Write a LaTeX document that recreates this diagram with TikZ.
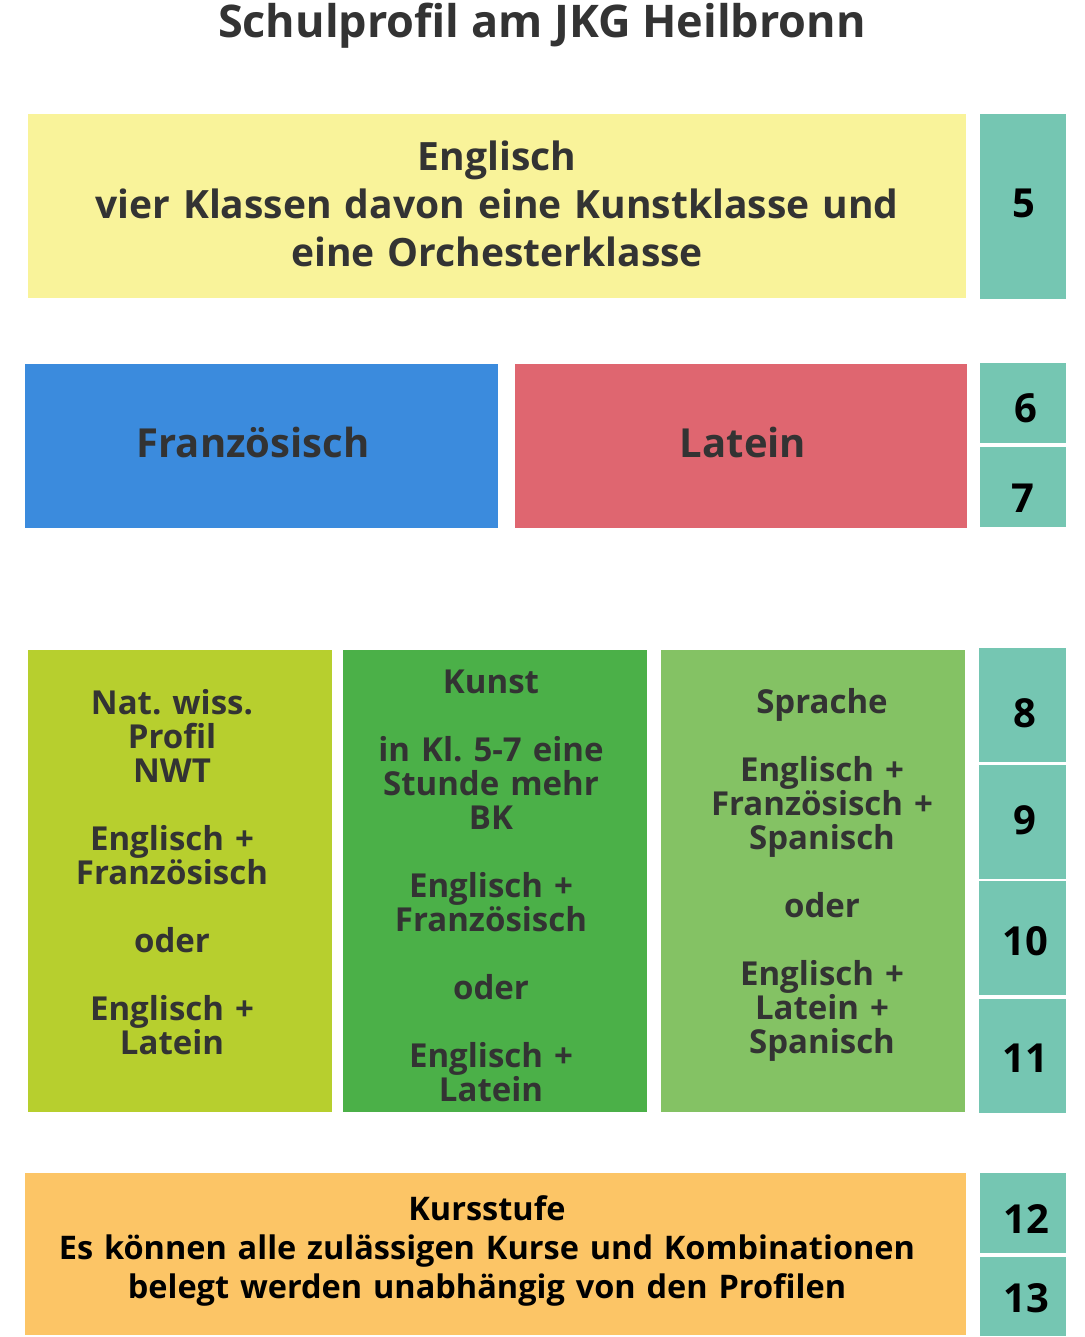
\documentclass[tikz,border=0pt]{standalone}
\usepackage{fontspec}
\setmainfont{Open Sans}
\usepackage{xcolor}
\usepackage{tikz}
\frenchspacing

\definecolor{textgray}{HTML}{333333}
\definecolor{gelb}{HTML}{F9F39A}
\definecolor{tuerkis}{HTML}{75C6B2}
\definecolor{blau}{HTML}{3B8BDD}
\definecolor{rot}{HTML}{DF6670}
\definecolor{limette}{HTML}{B7CF2E}
\definecolor{gruen}{HTML}{4BB048}
\definecolor{hellgruen}{HTML}{84C264}
\definecolor{orange}{HTML}{FCC566}

\begin{document}
\begin{tikzpicture}[x=1pt,y=-1pt,
    box/.style={anchor=north west,inner sep=0pt,outer sep=0pt},
    txt/.style={text=textgray,align=center,inner sep=0pt,anchor=base},
    big/.style={font=\bfseries\fontsize{39}{48}\selectfont},
    small/.style={font=\bfseries\fontsize{33}{34}\selectfont},
    num/.style={font=\bfseries\fontsize{40}{44}\selectfont,inner sep=0pt,anchor=base}]
        \useasboundingbox (0,0) rectangle (1084,1337);

        \node[txt,font=\bfseries\fontsize{45}{52}\selectfont] (titel) at (542,38) {Schulprofil am JKG Heilbronn};

        \node[box,fill=gelb,minimum width=938,minimum height=184] (englisch) at (28,114) {};
        \node[txt,big,text width=938] (englisch_text) at (497,171) {Englisch\\vier Klassen davon eine Kunstklasse und\\eine Orchesterklasse};

        \node[box,fill=blau,minimum width=473,minimum height=164] (franz) at (25,364) {};
        \node[txt,big,font=\bfseries\fontsize{40}{47}\selectfont] (franz_text) at (253,457) {Französisch};
        \node[box,fill=rot,minimum width=452,minimum height=164] (latein) at (515,364) {};
        \node[txt,big,font=\bfseries\fontsize{40}{47}\selectfont] (latein_text) at (743,457) {Latein};

        \node[box,fill=limette,minimum width=304,minimum height=462] (nwt) at (28,650) {};
        \node[txt,small,text width=304] (nwt_text) at (172,714) {Nat. wiss.\\Profil\\NWT\\[34pt]Englisch +\\Französisch\\[34pt]oder\\[34pt]Englisch +\\Latein};
        \node[box,fill=gruen,minimum width=304,minimum height=462] (kunst) at (343,650) {};
        \node[txt,small,text width=304] (kunst_text) at (491,693) {Kunst\\[34pt]in Kl. 5-7 eine\\Stunde mehr\\BK\\[34pt]Englisch +\\Französisch\\[34pt]oder\\[34pt]Englisch +\\Latein};
        \node[box,fill=hellgruen,minimum width=304,minimum height=462] (sprache) at (661,650) {};
        \node[txt,small,text width=304] (sprache_text) at (822,713) {Sprache\\[34pt]Englisch +\\Französisch +\\Spanisch\\[34pt]oder\\[34pt]Englisch +\\Latein +\\Spanisch};

        \node[box,fill=orange,minimum width=941,minimum height=162] (kurs) at (25,1173) {};
        \node[txt,text=black,font=\bfseries\fontsize{32.5}{39}\selectfont,text width=941] (kurs_text) at (487,1220) {Kursstufe\\Es können alle zulässigen Kurse und Kombinationen\\belegt werden unabhängig von den Profilen};

        \node[box,fill=tuerkis,minimum width=86,minimum height=185] (kl5_box) at (980,114) {};
        \node[box,fill=tuerkis,minimum width=86,minimum height=80] (kl6_box) at (980,363) {};
        \node[box,fill=tuerkis,minimum width=86,minimum height=80] (kl7_box) at (980,447) {};
        \node[box,fill=tuerkis,minimum width=87,minimum height=114] (kl8_box) at (979,648) {};
        \node[box,fill=tuerkis,minimum width=87,minimum height=114] (kl9_box) at (979,765) {};
        \node[box,fill=tuerkis,minimum width=87,minimum height=114] (kl10_box) at (979,881) {};
        \node[box,fill=tuerkis,minimum width=87,minimum height=114] (kl11_box) at (979,999) {};
        \node[box,fill=tuerkis,minimum width=86,minimum height=80] (kl12_box) at (980,1173) {};
        \node[box,fill=tuerkis,minimum width=86,minimum height=79] (kl13_box) at (980,1257) {};

        \node[num] (kl5) at (1024,218) {5};
        \node[num] (kl6) at (1026,422) {6};
        \node[num] (kl7) at (1023,512) {7};
        \node[num] (kl8) at (1025,727) {8};
        \node[num] (kl9) at (1025,834) {9};
        \node[num] (kl10) at (1025,955) {10};
        \node[num] (kl11) at (1025,1072) {11};
        \node[num] (kl12) at (1026,1233) {12};
        \node[num] (kl13) at (1026,1312) {13};
    \end{tikzpicture}
\end{document}
